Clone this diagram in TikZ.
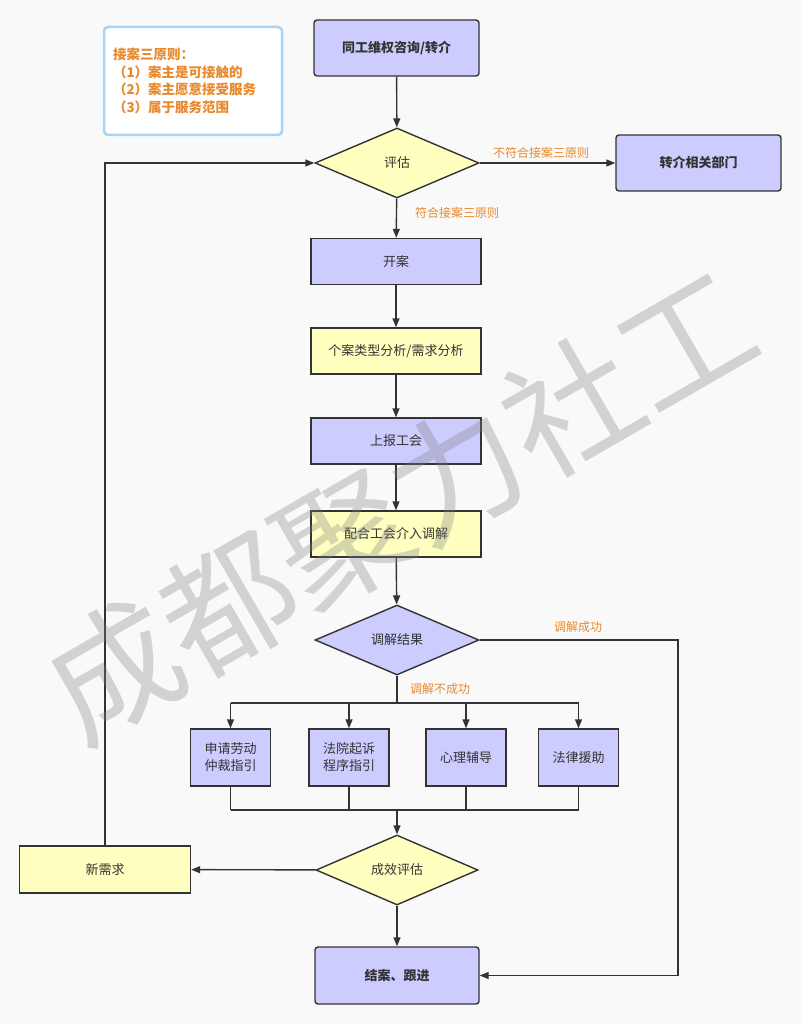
\documentclass[tikz,border=0pt]{standalone}
\usepackage{fontspec}
\setmainfont{Noto Sans CJK SC}
\usepackage{tikz}
\usetikzlibrary{arrows.meta,
                positioning,
                shapes.geometric}

\definecolor{bgc}{HTML}{F9F9F9}
\definecolor{boxblue}{HTML}{CCCCFF}
\definecolor{boxyellow}{HTML}{FFFFC0}
\definecolor{edge}{HTML}{333333}
\definecolor{lblorange}{HTML}{E8892B}
\definecolor{noteblue}{HTML}{A8D4F6}

\begin{document}
\begin{tikzpicture}[x=1pt,y=-1pt,
  >={Triangle[length=9pt,width=7pt]},
  line/.style={draw=edge,line width=1.4pt},
  proc/.style={draw=edge,line width=1.4pt,inner sep=0pt,align=center,
               font=\fontsize{13}{17}\selectfont,text=edge},
  pblue/.style={proc,fill=boxblue},
  pyellow/.style={proc,fill=boxyellow},
  rbox/.style={pblue,rounded corners=3pt,minimum width=165pt,minimum height=56pt,
               font=\fontsize{13}{17}\selectfont\bfseries},
  wbox/.style={minimum width=170pt,minimum height=46pt},
  sbox/.style={pblue,minimum width=80pt,minimum height=57pt},
  decide/.style={proc,diamond,aspect=2.3,minimum width=164pt,minimum height=70pt},
  lbl/.style={text=lblorange,font=\fontsize{12}{14}\selectfont}]

\fill[bgc] (0,0) rectangle (801,1024);
\useasboundingbox (0,0) rectangle (801,1024);

% principles note
\node[draw=noteblue,line width=2.5pt,fill=white,rounded corners=4pt,
      minimum width=178pt,minimum height=108pt,inner xsep=9pt,
      text width=160pt,align=left,text=lblorange,
      font=\fontsize{13.5}{17.5}\selectfont\bfseries] (note) at (193,81)
  {接案三原则：\\（1）案主是可接触的\\（2）案主愿意接受服务\\（3）属于服务范围};

% main column
\node[rbox] (consult) at (396.5,48) {同工维权咨询/转介};
\node[decide,fill=boxyellow] (assess) at (397,163) {评估};
\node[rbox] (referral) at (698.5,163) {转介相关部门};
\node[pblue,wbox] (open) at (396,261.5) {开案};
\node[pyellow,wbox] (analysis) at (396,351) {个案类型分析/需求分析};
\node[pblue,wbox] (report) at (396,441) {上报工会};
\node[pyellow,wbox] (mediate) at (396,534) {配合工会介入调解};
\node[decide,fill=boxblue] (result) at (397,640) {调解结果};
\node[decide,fill=boxyellow,minimum width=162pt] (effect) at (397,870) {成效评估};
\node[pyellow,minimum width=171pt,minimum height=47pt] (newneed) at (105,869.5) {新需求};
\node[rbox,minimum width=164pt,minimum height=57pt] (close) at (397,975.5) {结案、跟进};

\coordinate (split) at (397,703);
\coordinate (merge) at (397,810);
\coordinate (okturn) at (678,640);
\coordinate (loopturn) at (105,163);

\draw[line,->] (consult) -- (assess);
\draw[line,->] (assess) -- (referral);
\draw[line,->] (assess) -- (open);
\draw[line,->] (open) -- (analysis);
\draw[line,->] (analysis) -- (report);
\draw[line,->] (report) -- (mediate);
\draw[line,->] (mediate) -- (result);
\draw[line] (result) -- (split);
\draw[line,->] (result.east) -- (okturn) |- (close.east);
\draw[line,->] (merge) -- (effect);
\draw[line,->] (effect) -- (newneed);
\draw[line,->] (effect) -- (close);
\draw[line,->] (newneed.north) -- (loopturn) -- (assess.west);

% four branches
\foreach \n/\x/\t in {arb/230.5/{申请劳动\\仲裁指引},
                      court/349/{法院起诉\\程序指引},
                      psy/466/{心理辅导},
                      legal/578.5/{法律援助}}{
  \node[sbox] (\n) at (\x,757.5) {\t};
  \draw[line,->] (\x,703) -- (\n.north);
  \draw[line] (\n.south) -- (\x,810);
}
\draw[line] (230.5,703) -- (578.5,703);
\draw[line] (230.5,810) -- (578.5,810);

\node[lbl] at (541,153) {不符合接案三原则};
\node[lbl] at (457,213) {符合接案三原则};
\node[lbl] at (578,627) {调解成功};
\node[lbl] at (440,689) {调解不成功};

% watermark
\node[rotate=30,text=gray,opacity=0.32,
      font=\fontsize{132}{132}\selectfont] (mark) at (400,505) {成都聚力社工};
\end{tikzpicture}
\end{document}
